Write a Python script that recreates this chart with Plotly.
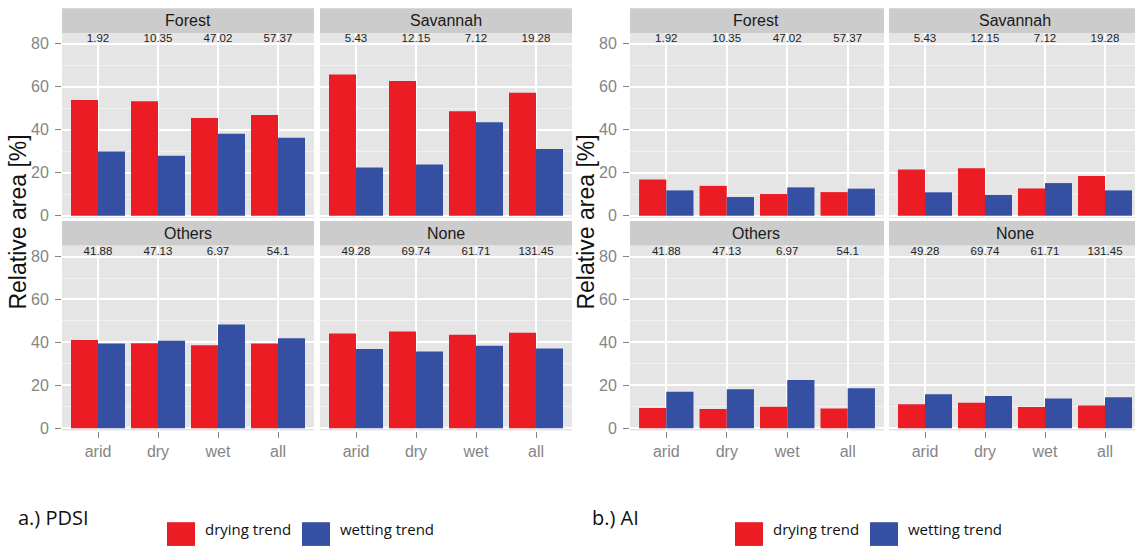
import plotly.graph_objects as go

# ---------------- data ----------------
categories = ["arid", "dry", "wet", "all"]
facets = ["Forest", "Savannah", "Others", "None"]

# a.) PDSI  -- relative area [%]
pdsi_forest_drying = [53.9, 53.3, 45.5, 46.9]
pdsi_forest_wetting = [29.9, 27.9, 38.2, 36.3]
pdsi_savannah_drying = [65.7, 62.7, 48.6, 57.3]
pdsi_savannah_wetting = [22.4, 23.9, 43.5, 31.1]
pdsi_others_drying = [41.1, 39.6, 38.7, 39.5]
pdsi_others_wetting = [39.5, 40.8, 48.3, 41.9]
pdsi_none_drying = [44.2, 45.1, 43.6, 44.5]
pdsi_none_wetting = [37.0, 35.8, 38.5, 37.2]

# b.) AI  -- relative area [%]
ai_forest_drying = [16.9, 13.9, 10.1, 11.0]
ai_forest_wetting = [11.8, 8.7, 13.2, 12.6]
ai_savannah_drying = [21.5, 22.1, 12.7, 18.5]
ai_savannah_wetting = [10.9, 9.7, 15.2, 11.8]
ai_others_drying = [9.5, 9.0, 10.1, 9.2]
ai_others_wetting = [17.0, 18.2, 22.5, 18.7]
ai_none_drying = [11.2, 11.9, 9.9, 10.7]
ai_none_wetting = [15.9, 15.1, 13.9, 14.5]

# numbers printed at the top of each facet
forest_labels = ["1.92", "10.35", "47.02", "57.37"]
savannah_labels = ["5.43", "12.15", "7.12", "19.28"]
others_labels = ["41.88", "47.13", "6.97", "54.1"]
none_labels = ["49.28", "69.74", "61.71", "131.45"]

series_names = ["drying trend", "wetting trend"]

# ---------------- styling / layout ----------------
W, H = 1135, 546
RED = "#EC1C24"
BLUE = "#3550A3"
PANEL_BG = "#E5E5E5"
STRIP_BG = "#CCCCCC"
TICK_GREY = "#858585"
AX_FONT = "Liberation Sans"
LEG_FONT = "Open Sans"

def px_x(v):
    return v / W

def px_y(v):
    return 1 - v / H

col_px = [(62, 314), (320, 572), (630, 884), (889, 1135)]
row_px = [(33.3, 220.3), (248.3, 435.3)]
strip_px = [(8.3, 33.3), (223.5, 248.3)]
unit_px = 60.0
y_range = [-1.0, 85.1]
label_y = 82.0

panels = [
    (pdsi_forest_drying, pdsi_forest_wetting, forest_labels, 0, 0, "Forest"),
    (pdsi_savannah_drying, pdsi_savannah_wetting, savannah_labels, 1, 0, "Savannah"),
    (pdsi_others_drying, pdsi_others_wetting, others_labels, 0, 1, "Others"),
    (pdsi_none_drying, pdsi_none_wetting, none_labels, 1, 1, "None"),
    (ai_forest_drying, ai_forest_wetting, forest_labels, 2, 0, "Forest"),
    (ai_savannah_drying, ai_savannah_wetting, savannah_labels, 3, 0, "Savannah"),
    (ai_others_drying, ai_others_wetting, others_labels, 2, 1, "Others"),
    (ai_none_drying, ai_none_wetting, none_labels, 3, 1, "None"),
]

fig = go.Figure()
shapes = []
annotations = []
layout_axes = {}

for i, (dry, wet, labs, col, row, name) in enumerate(panels):
    k = "" if i == 0 else str(i + 1)
    xa, ya = "x" + k, "y" + k
    fig.add_trace(go.Bar(x=categories, y=dry, name=series_names[0], marker=dict(color=RED, line=dict(width=0)),
                         xaxis=xa, yaxis=ya, showlegend=False))
    fig.add_trace(go.Bar(x=categories, y=wet, name=series_names[1], marker=dict(color=BLUE, line=dict(width=0)),
                         xaxis=xa, yaxis=ya, showlegend=False))
    fig.add_trace(go.Scatter(x=categories, y=[label_y] * len(categories), text=labs, mode="text",
                             textfont=dict(family=AX_FONT, size=11.5, color="#222222"),
                             xaxis=xa, yaxis=ya, showlegend=False, hoverinfo="skip"))

    x0, x1 = col_px[col]
    full_w = 4.2 * unit_px
    visible = min(x1 - x0, full_w)
    xr = [-0.6, -0.6 + visible / unit_px]
    y0, y1 = row_px[row]
    bottom = row == 1
    left = col in (0, 2)
    layout_axes["xaxis" + k] = dict(
        domain=[px_x(x0), px_x(x1)], anchor=ya, type="category", range=xr,
        showgrid=True, gridcolor="white", gridwidth=1.6, zeroline=False, showline=False,
        ticks="outside" if bottom else "", ticklen=6, tickwidth=1.3, tickcolor=TICK_GREY,
        showticklabels=bottom, tickfont=dict(family=AX_FONT, size=16, color=TICK_GREY),
        categoryorder="array", categoryarray=categories, fixedrange=True,
    )
    layout_axes["yaxis" + k] = dict(
        domain=[px_y(y1), px_y(y0)], anchor=xa, range=y_range,
        tickvals=[0, 20, 40, 60, 80],
        showgrid=True, gridcolor="white", gridwidth=1.6, zeroline=False, showline=False,
        minor=dict(dtick=10, tick0=0, showgrid=True, gridcolor="#F2F2F2", gridwidth=0.8, ticks=""),
        ticks="outside" if left else "", ticklen=6, tickwidth=1.3, tickcolor=TICK_GREY,
        showticklabels=left, tickfont=dict(family=AX_FONT, size=16, color=TICK_GREY),
        ticklabelstandoff=3, fixedrange=True,
    )
    shapes.append(dict(type="rect", xref="paper", yref="paper", x0=px_x(x0), x1=px_x(x1),
                       y0=px_y(y1), y1=px_y(y0), fillcolor=PANEL_BG, line=dict(width=0), layer="below"))
    s0, s1 = strip_px[row]
    shapes.append(dict(type="rect", xref="paper", yref="paper", x0=px_x(x0), x1=px_x(x1),
                       y0=px_y(s1), y1=px_y(s0), fillcolor=STRIP_BG, line=dict(width=0), layer="below"))
    sx_center = (x0 + (x0 + full_w)) / 2
    annotations.append(dict(text=name, xref="paper", yref="paper", x=px_x(sx_center), y=px_y((s0 + s1) / 2),
                            xanchor="center", yanchor="middle", showarrow=False,
                            font=dict(family=AX_FONT, size=16, color="#1A1A1A")))

# y-axis titles
for xc in (18, 586):
    annotations.append(dict(text="Relative area [%]", xref="paper", yref="paper", x=px_x(xc), y=px_y(225),
                            xanchor="center", yanchor="middle", textangle=-90, showarrow=False,
                            font=dict(family=AX_FONT, size=23, color="#111111")))

# bottom legends (drawn manually)
legend_blocks = [("a.) PDSI", 16, 0), ("b.) AI", 590, 568)]
for title, tx, off in legend_blocks:
    annotations.append(dict(text=title, xref="paper", yref="paper", x=px_x(tx), y=px_y(523),
                            xanchor="left", yanchor="middle", showarrow=False,
                            font=dict(family=LEG_FONT, size=20, color="#111111")))
    for (sx, col, txt, txx) in [(167, RED, series_names[0], 203), (302, BLUE, series_names[1], 338)]:
        shapes.append(dict(type="rect", xref="paper", yref="paper", x0=px_x(sx + off), x1=px_x(sx + off + 28),
                           y0=px_y(552), y1=px_y(528), fillcolor=col, line=dict(width=0)))
        annotations.append(dict(text=txt, xref="paper", yref="paper", x=px_x(txx + off), y=px_y(535),
                                xanchor="left", yanchor="middle", showarrow=False,
                                font=dict(family=LEG_FONT, size=15, color="#111111")))

fig.update_layout(
    width=W, height=H, margin=dict(l=0, r=0, t=0, b=0),
    paper_bgcolor="white", plot_bgcolor="rgba(0,0,0,0)",
    barmode="group", bargap=0.1, bargroupgap=0.0,
    showlegend=False, shapes=shapes, annotations=annotations,
    **layout_axes,
)

fig.write_html("out.html", config={"displayModeBar": False},
               post_script="document.body.style.margin='0';document.body.style.overflow='hidden';")
